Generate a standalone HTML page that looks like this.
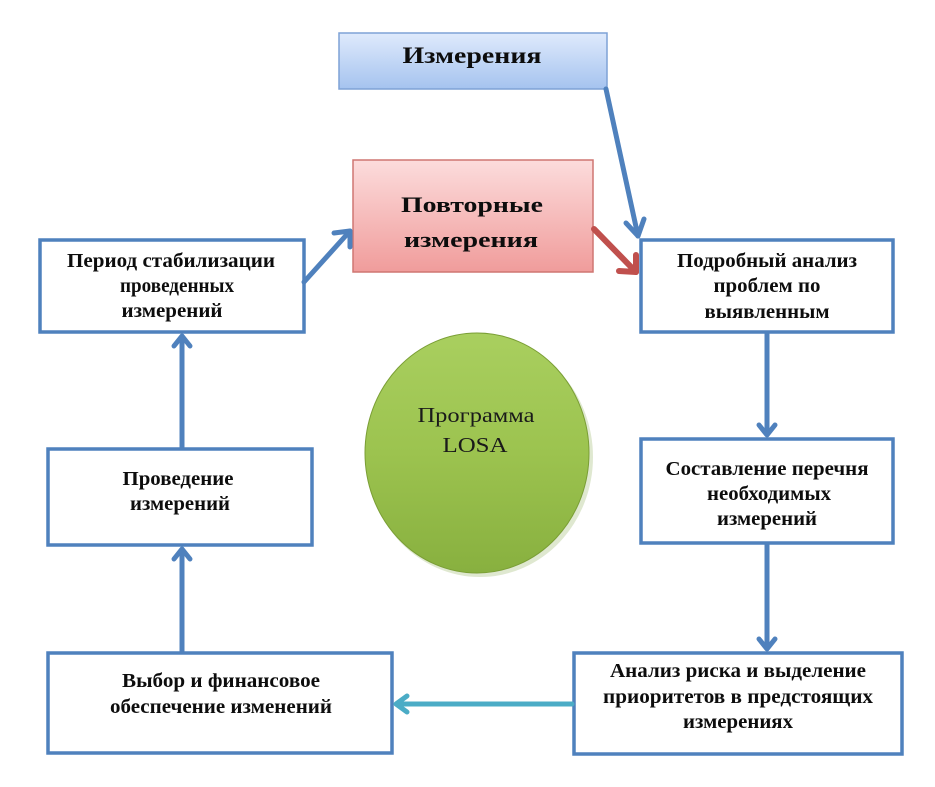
<!DOCTYPE html>
<html><head><meta charset="utf-8"><style>
html,body{margin:0;padding:0;background:#fff;}
svg{display:block;}
.b{font-family:"Liberation Serif","Noto Serif CJK SC",serif;font-weight:bold;fill:#0d0d0d;}
.r{font-family:"Liberation Serif","Noto Serif CJK SC",serif;fill:#1a1a1a;}
</style></head><body>
<svg width="935" height="787" viewBox="0 0 935 787" xmlns="http://www.w3.org/2000/svg">
<defs>
<linearGradient id="gb" x1="0" y1="0" x2="0" y2="1">
<stop offset="0" stop-color="#dfeafc"/><stop offset="1" stop-color="#a5c3ef"/></linearGradient>
<linearGradient id="gr" x1="0" y1="0" x2="0" y2="1">
<stop offset="0" stop-color="#fcdcdc"/><stop offset="1" stop-color="#f09c9b"/></linearGradient>
<linearGradient id="gg" x1="0" y1="0" x2="0" y2="1">
<stop offset="0" stop-color="#a9cf5f"/><stop offset="0.5" stop-color="#9cc34f"/><stop offset="1" stop-color="#88b03f"/></linearGradient>
</defs>
<rect width="935" height="787" fill="#fff"/>

<!-- top boxes -->
<rect x="339" y="33" width="268" height="56" fill="url(#gb)" stroke="#7ea2d6" stroke-width="1.5"/>
<text class="b" x="472" y="63" font-size="23" text-anchor="middle" textLength="139" lengthAdjust="spacingAndGlyphs">Измерения</text>

<rect x="353" y="160" width="240" height="112" fill="url(#gr)" stroke="#cf7672" stroke-width="1.5"/>
<text class="b" x="472" y="212" font-size="22" text-anchor="middle" textLength="142" lengthAdjust="spacingAndGlyphs">Повторные</text>
<text class="b" x="471" y="247" font-size="22" text-anchor="middle" textLength="134" lengthAdjust="spacingAndGlyphs">измерения</text>

<!-- ellipse -->
<ellipse cx="480" cy="457" rx="113" ry="120" fill="#c9d8b0" opacity="0.6"/>
<ellipse cx="477" cy="453" rx="112" ry="120" fill="url(#gg)" stroke="#7a9e35" stroke-width="1"/>
<text class="r" x="476" y="422" font-size="21" text-anchor="middle" textLength="117" lengthAdjust="spacingAndGlyphs">Программа</text>
<text class="r" x="475" y="452" font-size="21" text-anchor="middle" textLength="65" lengthAdjust="spacingAndGlyphs">LOSA</text>

<!-- boxes -->
<g fill="#fff" stroke="#4f81bd" stroke-width="3.5">
<rect x="40" y="240" width="264" height="92"/>
<rect x="48" y="449" width="264" height="96"/>
<rect x="48" y="653" width="344" height="100"/>
<rect x="641" y="240" width="252" height="92"/>
<rect x="641" y="439" width="252" height="104"/>
<rect x="574" y="653" width="328" height="101"/>
</g>

<g class="b" font-size="20" text-anchor="middle">
<text x="171" y="267" textLength="208" lengthAdjust="spacingAndGlyphs">Период стабилизации</text>
<text x="177" y="292" textLength="114" lengthAdjust="spacingAndGlyphs">проведенных</text>
<text x="172" y="317" textLength="101" lengthAdjust="spacingAndGlyphs">измерений</text>

<text x="178" y="485" textLength="111" lengthAdjust="spacingAndGlyphs">Проведение</text>
<text x="180" y="510" textLength="100" lengthAdjust="spacingAndGlyphs">измерений</text>

<text x="221" y="687" textLength="198" lengthAdjust="spacingAndGlyphs">Выбор и финансовое</text>
<text x="221" y="713" textLength="222" lengthAdjust="spacingAndGlyphs">обеспечение изменений</text>

<text x="767" y="267" textLength="180" lengthAdjust="spacingAndGlyphs">Подробный анализ</text>
<text x="767" y="292" textLength="107" lengthAdjust="spacingAndGlyphs">проблем по</text>
<text x="767" y="318" textLength="125" lengthAdjust="spacingAndGlyphs">выявленным</text>

<text x="767" y="475" textLength="203" lengthAdjust="spacingAndGlyphs">Составление перечня</text>
<text x="769" y="500" textLength="124" lengthAdjust="spacingAndGlyphs">необходимых</text>
<text x="767" y="525" textLength="100" lengthAdjust="spacingAndGlyphs">измерений</text>

<text x="738" y="677" textLength="256" lengthAdjust="spacingAndGlyphs">Анализ риска и выделение</text>
<text x="738" y="703" textLength="270" lengthAdjust="spacingAndGlyphs">приоритетов в предстоящих</text>
<text x="738" y="728" textLength="110" lengthAdjust="spacingAndGlyphs">измерениях</text>
</g>

<!-- connectors -->
<g fill="none" stroke="#4f81bd" stroke-width="5" stroke-linecap="round" stroke-linejoin="round">
<line x1="606" y1="89" x2="638" y2="236"/>
<polyline points="626,223 638,236 644,219"/>
<line x1="304" y1="282" x2="350" y2="231"/>
<polyline points="334,233 350,231 350,247"/>
<line x1="182" y1="447" x2="182" y2="337"/>
<polyline points="174,346 182,336 190,346"/>
<line x1="182" y1="651" x2="182" y2="550"/>
<polyline points="174,559 182,549 190,559"/>
<line x1="767" y1="333" x2="767" y2="434"/>
<polyline points="759,425 767,435 775,425"/>
<line x1="767" y1="544" x2="767" y2="648"/>
<polyline points="759,639 767,649 775,639"/>
</g>
<g fill="none" stroke="#c0504d" stroke-width="6" stroke-linecap="round" stroke-linejoin="round">
<line x1="594" y1="229" x2="636" y2="272"/>
<polyline points="619,271 636,272 636,255"/>
</g>
<g fill="none" stroke="#4bacc6" stroke-width="5" stroke-linecap="round" stroke-linejoin="round">
<line x1="572" y1="704" x2="397" y2="704"/>
<polyline points="407,696 396,704 407,712"/>
</g>
</svg>
</body></html>
